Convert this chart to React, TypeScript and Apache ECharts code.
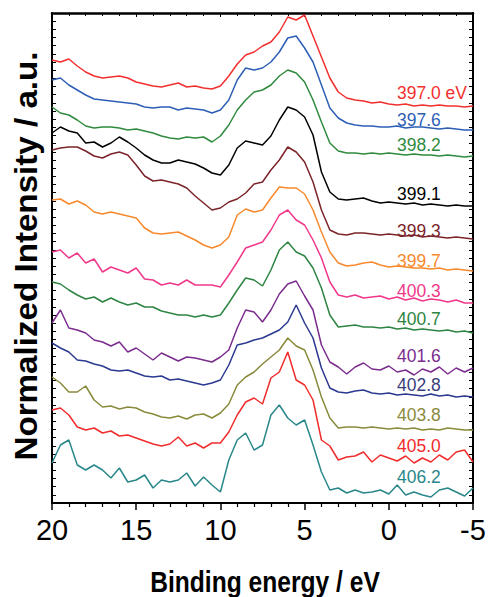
import React, { useEffect, useRef } from "react";
import * as echarts from "echarts";

// Binding energy grid (eV), plotted from 20 down to -5
const energies = [
  20, 19.5, 19, 18.5, 18, 17.5, 17, 16.5, 16, 15.5, 15, 14.5, 14, 13.5, 13, 12.5, 12, 11.5, 11, 10.5,
  10, 9.5, 9, 8.5, 8, 7.5, 7, 6.5, 6, 5.5, 5, 4.5, 4, 3.5, 3, 2.5, 2, 1.5, 1, 0.5,
  0, -0.5, -1, -1.5, -2, -2.5, -3, -3.5, -4, -4.5, -5,
];

// Photon energies (labels) of each stacked spectrum
const names = ["397.0 eV", "397.6", "398.2", "399.1", "399.3", "399.7", "400.3", "400.7", "401.6", "402.8", "403.8", "405.0", "406.2"];

// Normalized intensities (stacked, a.u.)
const s3970 = [445,443,446,439,433,429,427,428,429,427,423,421,419,418,420,422,418,419,417,416,419,429,441,450,453,459,463,473,488,485,490,469,448,427,413,407,405,404,402,403,401,400,401,399,400,399,400,399,399,398,399];
const s3976 = [425,427,420,415,410,406,405,404,403,402,401,398,397,398,398,395,397,396,395,392,395,405,425,437,435,437,443,453,467,469,457,443,420,397,387,382,380,379,379,378,378,379,377,378,378,377,376,377,376,375,375];
const s3982 = [398,392,390,385,379,377,378,378,377,375,376,374,372,369,367,366,368,367,368,363,369,380,395,405,413,415,420,429,435,432,423,405,383,362,354,352,352,351,352,351,352,351,350,351,350,350,349,350,349,348,349];
const s3991 = [372,378,374,372,362,363,358,362,368,363,357,350,345,342,342,345,343,341,337,332,330,340,357,364,362,360,369,385,398,395,388,370,333,313,306,305,306,307,304,302,303,302,301,302,300,301,300,299,300,299,299];
const s3993 = [355,357,358,358,354,349,347,351,353,350,340,329,324,325,323,321,317,309,302,295,297,303,306,312,321,323,335,345,358,353,343,323,295,275,271,270,272,272,271,270,271,270,269,270,268,269,268,267,268,267,266];
const s3997 = [305,306,301,304,300,293,291,293,291,289,287,277,272,271,272,273,269,265,260,257,260,268,290,296,293,295,307,318,317,317,311,295,273,253,242,239,240,242,243,240,238,239,238,237,237,236,237,235,236,235,234];
const s4003 = [253,255,247,252,242,246,233,238,235,232,237,226,225,220,222,220,225,220,220,220,218,230,243,257,260,263,275,290,295,285,280,265,247,223,210,208,210,207,208,209,206,208,205,207,204,206,205,203,205,202,202];
const s4007 = [223,221,215,210,206,208,203,207,203,200,202,198,198,194,192,190,190,188,190,188,190,202,215,227,225,219,235,255,263,253,249,237,217,190,178,179,180,178,178,177,178,176,177,175,176,175,174,175,173,174,172];
const s4016 = [182,195,177,175,172,165,163,159,163,153,157,151,145,152,148,144,148,147,145,143,148,155,177,195,193,183,195,211,221,224,209,195,160,143,138,131,138,142,136,135,139,133,135,130,136,133,138,131,137,133,137];
const s4028 = [162,157,153,145,144,141,139,135,134,135,132,129,128,129,125,126,124,122,120,122,125,140,160,162,165,167,171,175,183,200,182,167,137,117,113,112,114,115,112,111,112,110,111,110,109,111,109,110,108,109,108];
const s4038 = [128,122,113,113,119,105,98,99,96,98,97,93,91,88,87,89,86,90,91,87,92,101,120,128,133,141,148,155,167,159,155,135,108,87,77,78,78,77,78,77,76,77,76,77,75,76,75,77,76,75,75];
const s4050 = [95,97,90,78,75,77,72,74,69,70,67,64,61,59,61,68,59,62,57,62,62,73,90,103,107,101,127,133,153,125,120,105,65,59,45,48,49,53,43,50,47,44,49,42,47,43,50,45,53,55,43];
const s4062 = [42,60,65,40,35,40,35,27,37,23,25,30,17,25,23,25,32,19,28,20,13,45,65,72,55,60,90,100,87,80,85,60,33,15,17,12,15,12,13,15,11,20,10,13,10,8,15,17,13,9,17];

const spectra = [s3970, s3976, s3982, s3991, s3993, s3997, s4003, s4007, s4016, s4028, s4038, s4050, s4062];

// Styles / layout
const lineColors = ["#f22f2f", "#2e5fb6", "#2f8a3e", "#000000", "#7b2429", "#f7892c", "#f0388a", "#2e8442", "#7b2d8e", "#2b3990", "#8a8a3c", "#f02c2c", "#29878a"];
const labelColors = ["#f22f2f", "#2e5fb6", "#2f8a3e", "#000000", "#7b2429", "#f7892c", "#f0388a", "#2e8442", "#7b2d8e", "#38407a", "#8a8a3c", "#f02c2c", "#29878a"];
const labelY = [92, 119, 144, 193, 230, 260, 290, 318, 355, 384, 414, 445, 476];

const FONT = "'Liberation Sans', Arial, sans-serif";

export default function App() {
  const ref = useRef<HTMLDivElement>(null);
  useEffect(() => {
    if (!ref.current) return;
    const chart = echarts.init(ref.current, undefined, { renderer: "svg" });
    const series = spectra.map((vals, k) => ({
      type: "line",
      name: names[k],
      xAxisIndex: 0,
      yAxisIndex: 0,
      data: energies.map((e, i) => [e, vals[i]]),
      showSymbol: false,
      symbol: "none",
      lineStyle: { color: lineColors[k], width: 1.5 },
      itemStyle: { color: lineColors[k] },
      z: 3,
    }));
    const graphics: any[] = names.map((n, k) => ({
      type: "text",
      x: 397,
      y: labelY[k],
      scaleX: 0.92,
      style: {
        text: n,
        fill: labelColors[k],
        fontSize: 19,
        fontFamily: FONT,
        align: "left",
        verticalAlign: "middle",
      },
      z: 10,
    }));
    graphics.push({
      type: "text",
      x: 26,
      y: 256,
      rotation: Math.PI / 2,
      scaleX: 1.07,
      style: {
        text: "Normalized Intensity / a.u.",
        fill: "#000",
        fontSize: 31,
        fontWeight: "bold",
        fontFamily: FONT,
        align: "center",
        verticalAlign: "middle",
      },
    });
    graphics.push({
      type: "text",
      x: 265,
      y: 582,
      scaleX: 0.82,
      style: {
        text: "Binding energy / eV",
        fill: "#000",
        fontSize: 30,
        fontWeight: "bold",
        fontFamily: FONT,
        align: "center",
        verticalAlign: "middle",
      },
    });

    const xCommon = {
      type: "value",
      inverse: true,
      min: -5,
      max: 20,
      interval: 5,
      splitLine: { show: false },
      minorSplitLine: { show: false },
    };
    const yTick = (pos: string) => ({
      type: "value",
      position: pos,
      min: 0,
      max: 60,
      interval: 1,
      axisLine: { show: true, onZero: false, lineStyle: { color: "#000", width: 2 } },
      axisTick: { show: true, inside: true, length: 4, lineStyle: { color: "#000", width: 1 } },
      axisLabel: { show: false },
      splitLine: { show: false },
    });

    chart.setOption({
      animation: false,
      backgroundColor: "#fff",
      grid: { left: 52, right: 16, top: 13, bottom: 94, containLabel: false },
      xAxis: [
        {
          ...xCommon,
          position: "bottom",
          axisLine: { show: true, onZero: false, lineStyle: { color: "#000", width: 2 } },
          axisTick: { show: true, inside: false, length: 7, lineStyle: { color: "#000", width: 1.5 } },
          minorTick: { show: true, splitNumber: 5, length: 4, lineStyle: { color: "#000", width: 1.2 } },
          axisLabel: { show: true, color: "#000", fontSize: 29, fontFamily: FONT, margin: 12 },
        },
        {
          ...xCommon,
          position: "top",
          axisLine: { show: true, onZero: false, lineStyle: { color: "#000", width: 2.5 } },
          axisTick: { show: true, inside: true, length: 4, lineStyle: { color: "#000", width: 1 } },
          minorTick: { show: true, splitNumber: 5, length: 3, lineStyle: { color: "#000", width: 1 } },
          axisLabel: { show: false },
        },
      ],
      yAxis: [
        { type: "value", min: 2, max: 492, show: false, splitLine: { show: false } },
        yTick("left"),
        yTick("right"),
      ],
      series,
      graphic: graphics,
    });
    return () => chart.dispose();
  }, []);
  return (
    <div
      ref={ref}
      style={{ position: "fixed", left: 0, top: 0, width: 489, height: 597, background: "#fff" }}
    />
  );
}
